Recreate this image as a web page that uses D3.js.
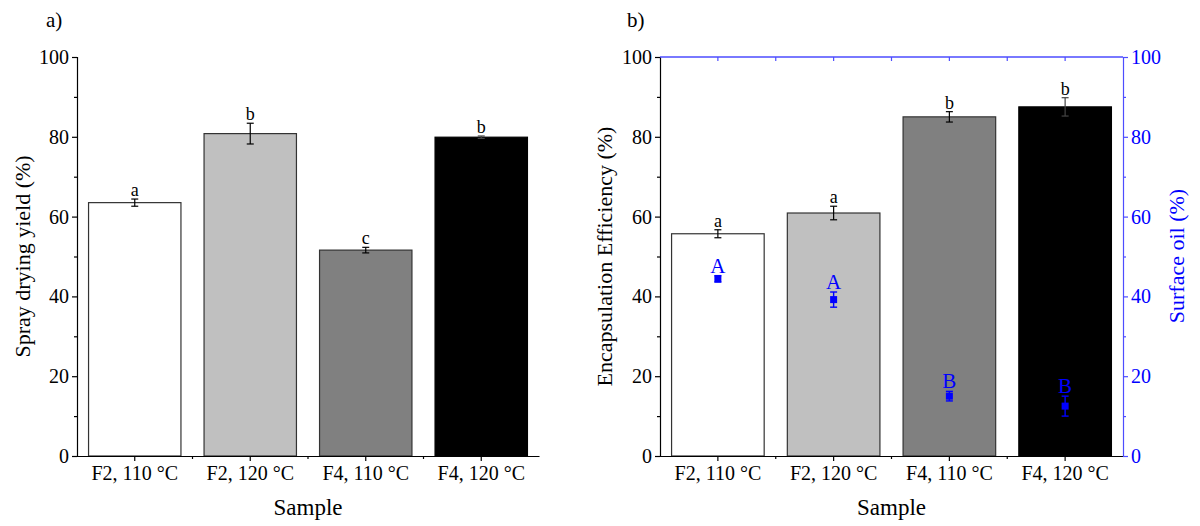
<!DOCTYPE html>
<html><head><meta charset="utf-8">
<script src="https://cdn.jsdelivr.net/npm/d3@7/dist/d3.min.js"></script>
<style>body{margin:0;background:#fff}svg{display:block}svg text{font-family:'Liberation Serif','Times New Roman','DejaVu Serif',serif !important}</style>
</head><body><svg id="c" width="1200" height="526"></svg>
<script>
const categories = ["F2, 110 °C","F2, 120 °C","F4, 110 °C","F4, 120 °C"];
const barFills = ["#ffffff","#c0c0c0","#808080","#000000"];
const yieldValues = [63.5, 80.8, 51.6, 79.9];
const yieldErrors = [0.9, 2.6, 0.7, 0.3];
const yieldLetters = ["a","b","c","b"];
const eeValues = [55.7, 60.9, 85.0, 87.5];
const eeErrors = [1.0, 1.7, 1.3, 2.3];
const eeLetters = ["a","a","b","b"];
const oilValues = [44.4, 39.2, 15.0, 12.5];
const oilErrors = [0.8, 1.9, 1.2, 2.5];
const oilLetters = ["A","A","B","B"];
const yTicks = [0,20,40,60,80,100];
const yMinor = [10,30,50,70,90];

const FONT = "'Liberation Serif','Times New Roman','DejaVu Serif',serif";
const svg = d3.select("#c").attr("font-family", FONT);
const BLUE = "#0000ff", AXBLUE = "#4d4dff";

function styleTicks(sel, col) {
  sel.attr("font-family", FONT);
  sel.selectAll(".tick text").attr("font-size",20).style("font-family",FONT).attr("fill",col);
}

function panel(x0, x1, vals, errs, letters, opts) {
  const g = svg.append("g");
  const x = d3.scaleBand().domain(categories).range([x0, x1]).paddingInner(0).paddingOuter(0);
  const y = d3.scaleLinear().domain([0,100]).range([456, 57]);
  const bw = x.bandwidth()*0.8;
  g.selectAll("rect.bar").data(categories).join("rect")
    .attr("x", d=>x(d)+x.bandwidth()/2-bw/2).attr("width", bw)
    .attr("y", (d,i)=>y(vals[i])).attr("height",(d,i)=>y(0)-y(vals[i]))
    .attr("fill",(d,i)=>barFills[i]).attr("stroke",(d,i)=>i===3?"#000":"#333").attr("stroke-width",1.2);
  categories.forEach((c,i)=>{
    const cx = x(c)+x.bandwidth()/2;
    const col = i===3 ? "#444" : "#000";
    g.append("line").attr("x1",cx).attr("x2",cx).attr("y1",y(vals[i]+errs[i])).attr("y2",y(vals[i]-errs[i])).attr("stroke",col).attr("stroke-width",1.2);
    [vals[i]+errs[i], vals[i]-errs[i]].forEach(v=>{
      g.append("line").attr("x1",cx-3.5).attr("x2",cx+3.5).attr("y1",y(v)).attr("y2",y(v)).attr("stroke",col).attr("stroke-width",1.2);
    });
    g.append("text").attr("x",cx).attr("y",y(vals[i]+errs[i])-3).attr("text-anchor","middle")
      .attr("font-size",18).attr("fill","#000").text(letters[i]);
  });
  const la = g.append("g").attr("transform",`translate(${x0},0)`).call(d3.axisLeft(y).tickValues(yTicks).tickSize(5).tickPadding(3));
  la.select(".domain").attr("stroke","#000").attr("stroke-width",1.2);
  la.selectAll(".tick line").attr("stroke","#000").attr("stroke-width",1.2);
  styleTicks(la, "#000");
  const lma = g.append("g").attr("transform",`translate(${x0},0)`).call(d3.axisLeft(y).tickValues(yMinor).tickSize(3).tickFormat(""));
  lma.select(".domain").remove(); lma.selectAll(".tick line").attr("stroke","#000").attr("stroke-width",1.2);
  const ba = g.append("g").attr("transform",`translate(0,${y(0)})`).call(d3.axisBottom(x).tickSize(5).tickPadding(5).tickSizeOuter(0));
  ba.select(".domain").attr("stroke","#000").attr("stroke-width",1.2);
  ba.selectAll(".tick line").attr("stroke","#000").attr("stroke-width",1.2);
  styleTicks(ba, "#000");
  const bounds = categories.slice(1).map(c=>x(c));
  g.selectAll("line.bmin").data(bounds).join("line").attr("class","bmin")
    .attr("x1",d=>d).attr("x2",d=>d).attr("y1",y(0)).attr("y2",y(0)+3).attr("stroke","#000").attr("stroke-width",1.2);
  g.append("text").attr("x",(x0+x1)/2).attr("y",515).attr("text-anchor","middle").attr("font-size",23).text("Sample");
  g.append("text").attr("transform",`translate(${opts.ylabX},${(y(0)+y(100))/2}) rotate(-90)`)
    .attr("text-anchor","middle").attr("font-size",22).text(opts.ylabel);
  g.append("text").attr("x",opts.tagX).attr("y",27).attr("font-size",21).text(opts.tag);
  return {g,x,y};
}

panel(77, 539, yieldValues, yieldErrors, yieldLetters, {ylabel:"Spray drying yield (%)", ylabX:30, tag:"a)", tagX:46});
const pb = panel(660, 1123, eeValues, eeErrors, eeLetters, {ylabel:"Encapsulation Efficiency (%)", ylabX:612, tag:"b)", tagX:627});

const {g, x} = pb;
const y2 = d3.scaleLinear().domain([0,100]).range([456,57]);
const ra = g.append("g").attr("transform",`translate(1123,0)`).call(d3.axisRight(y2).tickValues(yTicks).tickSize(5).tickPadding(3));
ra.select(".domain").attr("stroke",AXBLUE).attr("stroke-width",1.2);
ra.selectAll(".tick line").attr("stroke",AXBLUE).attr("stroke-width",1.2);
styleTicks(ra, BLUE);
const rm = g.append("g").attr("transform",`translate(1123,0)`).call(d3.axisRight(y2).tickValues(yMinor).tickSize(3).tickFormat(""));
rm.select(".domain").remove(); rm.selectAll(".tick line").attr("stroke",AXBLUE).attr("stroke-width",1.2);
g.append("line").attr("x1",660).attr("x2",1123).attr("y1",y2(100)).attr("y2",y2(100)).attr("stroke",AXBLUE).attr("stroke-width",1.4);
const topTicks = categories.map(c=>x(c)+x.bandwidth()/2).concat(categories.slice(1).map(c=>x(c)));
g.selectAll("line.tt").data(topTicks).join("line").attr("class","tt")
  .attr("x1",d=>d).attr("x2",d=>d).attr("y1",y2(100)).attr("y2",y2(100)+4).attr("stroke",AXBLUE).attr("stroke-width",1.2);
g.append("text").attr("transform",`translate(1184,256) rotate(-90)`).attr("text-anchor","middle")
  .attr("font-size",22).attr("fill",BLUE).text("Surface oil (%)");
categories.forEach((c,i)=>{
  const cx = x(c)+x.bandwidth()/2;
  const hi = y2(oilValues[i]+oilErrors[i]), lo = y2(oilValues[i]-oilErrors[i]);
  g.append("line").attr("x1",cx).attr("x2",cx).attr("y1",hi).attr("y2",lo).attr("stroke",BLUE).attr("stroke-width",1.4);
  [hi,lo].forEach(v=>g.append("line").attr("x1",cx-3.5).attr("x2",cx+3.5).attr("y1",v).attr("y2",v).attr("stroke",BLUE).attr("stroke-width",1.4));
  g.append("rect").attr("x",cx-3.5).attr("y",y2(oilValues[i])-3.5).attr("width",7).attr("height",7).attr("fill",BLUE);
  g.append("text").attr("x",cx).attr("y",hi-3).attr("text-anchor","middle").attr("font-size",21).attr("fill",BLUE).text(oilLetters[i]);
});
</script></body></html>
